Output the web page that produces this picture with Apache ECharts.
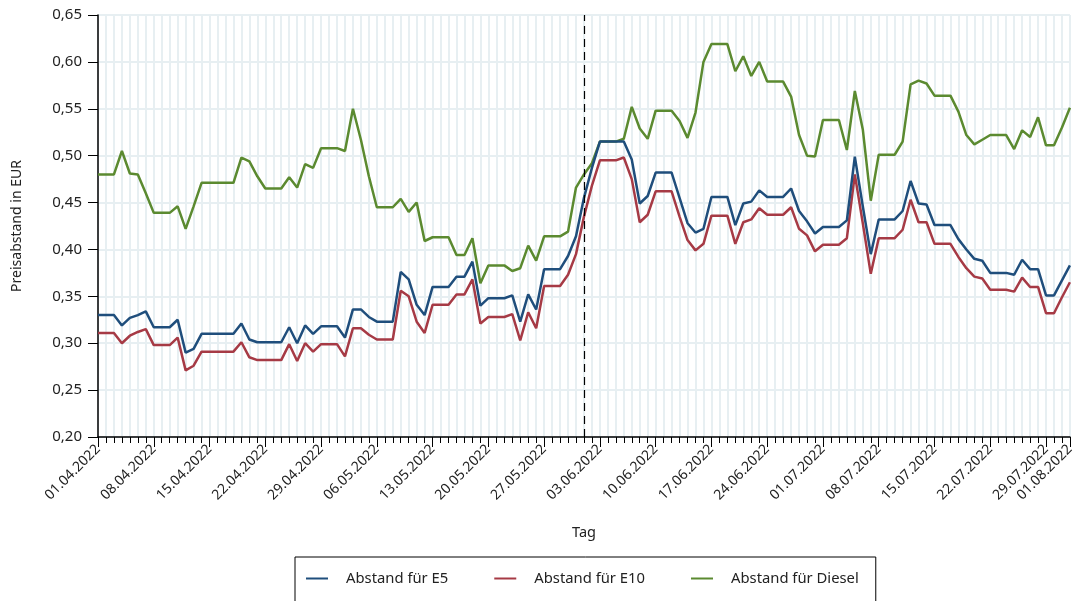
<!DOCTYPE html>
<html>
<head>
<meta charset="utf-8">
<script src="https://cdn.jsdelivr.net/npm/echarts@6/dist/echarts.min.js"></script>
<style>
  html, body { margin: 0; padding: 0; background: #fff; }
  #chart { width: 1077px; height: 601px; }
</style>
</head>
<body>
<div id="chart"></div>
<script>
// Tage 01.04.2022 - 01.08.2022
var days = []
var d = new Date(Date.UTC(2022, 3, 1))
while (d <= new Date(Date.UTC(2022, 7, 1))) {
  var dd = String(d.getUTCDate()).padStart(2, '0')
  var mm = String(d.getUTCMonth() + 1).padStart(2, '0')
  days.push(dd + '.' + mm + '.' + d.getUTCFullYear())
  d.setUTCDate(d.getUTCDate() + 1)
}

var seriesNames = ['Abstand für E5', 'Abstand für E10', 'Abstand für Diesel']

var e5 = [
  0.330, 0.330, 0.330, 0.319, 0.327, 0.330, 0.334, 0.317, 0.317, 0.317,
  0.325, 0.290, 0.294, 0.310, 0.310, 0.310, 0.310, 0.310, 0.321, 0.304,
  0.301, 0.301, 0.301, 0.301, 0.317, 0.300, 0.319, 0.310, 0.318, 0.318,
  0.318, 0.306, 0.336, 0.336, 0.328, 0.323, 0.323, 0.323, 0.376, 0.368,
  0.341, 0.330, 0.360, 0.360, 0.360, 0.371, 0.371, 0.387, 0.340, 0.348,
  0.348, 0.348, 0.351, 0.323, 0.352, 0.336, 0.379, 0.379, 0.379, 0.393,
  0.414, 0.455, 0.487, 0.515, 0.515, 0.515, 0.515, 0.496, 0.449, 0.457,
  0.482, 0.482, 0.482, 0.455, 0.428, 0.418, 0.422, 0.456, 0.456, 0.456,
  0.426, 0.449, 0.451, 0.463, 0.456, 0.456, 0.456, 0.465, 0.441, 0.430,
  0.417, 0.424, 0.424, 0.424, 0.431, 0.499, 0.446, 0.395, 0.432, 0.432,
  0.432, 0.441, 0.473, 0.449, 0.448, 0.426, 0.426, 0.426, 0.411, 0.400,
  0.390, 0.388, 0.375, 0.375, 0.375, 0.373, 0.389, 0.379, 0.379, 0.351,
  0.351, 0.367, 0.383
]

var e10 = [
  0.311, 0.311, 0.311, 0.300, 0.308, 0.312, 0.315, 0.298, 0.298, 0.298,
  0.306, 0.271, 0.276, 0.291, 0.291, 0.291, 0.291, 0.291, 0.301, 0.285,
  0.282, 0.282, 0.282, 0.282, 0.299, 0.281, 0.300, 0.291, 0.299, 0.299,
  0.299, 0.286, 0.316, 0.316, 0.309, 0.304, 0.304, 0.304, 0.356, 0.350,
  0.323, 0.311, 0.341, 0.341, 0.341, 0.352, 0.352, 0.368, 0.321, 0.328,
  0.328, 0.328, 0.331, 0.303, 0.333, 0.316, 0.361, 0.361, 0.361, 0.373,
  0.395, 0.435, 0.468, 0.495, 0.495, 0.495, 0.498, 0.475, 0.429, 0.437,
  0.462, 0.462, 0.462, 0.435, 0.410, 0.399, 0.406, 0.436, 0.436, 0.436,
  0.406, 0.429, 0.432, 0.444, 0.437, 0.437, 0.437, 0.445, 0.422, 0.415,
  0.398, 0.405, 0.405, 0.405, 0.412, 0.480, 0.428, 0.374, 0.412, 0.412,
  0.412, 0.421, 0.453, 0.429, 0.429, 0.406, 0.406, 0.406, 0.392, 0.380,
  0.371, 0.369, 0.357, 0.357, 0.357, 0.355, 0.370, 0.360, 0.360, 0.332,
  0.332, 0.349, 0.365
]

var diesel = [
  0.480, 0.480, 0.480, 0.505, 0.481, 0.480, 0.460, 0.439, 0.439, 0.439,
  0.446, 0.422, 0.446, 0.471, 0.471, 0.471, 0.471, 0.471, 0.498, 0.494,
  0.478, 0.465, 0.465, 0.465, 0.477, 0.466, 0.491, 0.487, 0.508, 0.508,
  0.508, 0.505, 0.550, 0.517, 0.478, 0.445, 0.445, 0.445, 0.454, 0.440,
  0.450, 0.409, 0.413, 0.413, 0.413, 0.394, 0.394, 0.412, 0.364, 0.383,
  0.383, 0.383, 0.377, 0.380, 0.404, 0.388, 0.414, 0.414, 0.414, 0.419,
  0.466, 0.480, 0.492, 0.515, 0.515, 0.515, 0.518, 0.552, 0.529, 0.518,
  0.548, 0.548, 0.548, 0.537, 0.519, 0.546, 0.600, 0.619, 0.619, 0.619,
  0.590, 0.606, 0.585, 0.600, 0.579, 0.579, 0.579, 0.563, 0.522, 0.500,
  0.499, 0.538, 0.538, 0.538, 0.506, 0.569, 0.528, 0.452, 0.501, 0.501,
  0.501, 0.515, 0.576, 0.580, 0.577, 0.564, 0.564, 0.564, 0.547, 0.522,
  0.512, 0.517, 0.522, 0.522, 0.522, 0.507, 0.527, 0.520, 0.541, 0.511,
  0.511, 0.530, 0.551
]

// Beginn Tankrabatt
var markDay = '01.06.2022'

var chart = echarts.init(document.getElementById('chart'))

// Beschriftung jede Woche + letzter Tag
function isLabelDay (i) {
  return i % 7 === 0 || i === days.length - 1
}

chart.setOption({
  animation: false,
  color: ['#1f4e7c', '#a63a45', '#5b8a30'],
  textStyle: { fontFamily: 'Noto Sans', color: '#222' },
  grid: { left: 98, right: 5, top: 15, bottom: 164 },
  legend: {
    data: seriesNames,
    left: 295,
    top: 557,
    padding: [14, 17, 30, 11],
    borderColor: '#000',
    borderWidth: 1,
    itemGap: 46,
    itemWidth: 22,
    itemHeight: 2,
    icon: 'rect',
    textStyle: { fontSize: 14.8, color: '#222', padding: [0, 0, 0, 13] }
  },
  xAxis: [
    {
      type: 'category',
      data: days,
      boundaryGap: false,
      name: 'Tag',
      nameLocation: 'middle',
      nameGap: 88,
      nameTextStyle: { fontSize: 14.5, color: '#222' },
      axisLine: { lineStyle: { color: '#000', width: 1.5 } },
      axisTick: { interval: 0, length: 6, lineStyle: { color: '#000' } },
      axisLabel: {
        interval: function (i) { return isLabelDay(i) },
        rotate: 45,
        fontSize: 14,
        color: '#222',
        margin: 10
      },
      splitLine: { show: true, interval: 0, lineStyle: { color: '#e7eff2', width: 2 } }
    },
    {
      // längere Striche an den beschrifteten Tagen
      type: 'category',
      data: days,
      boundaryGap: false,
      position: 'bottom',
      axisLine: { show: false },
      axisLabel: { show: false },
      axisTick: {
        interval: function (i) { return isLabelDay(i) },
        length: 10,
        lineStyle: { color: '#000' }
      },
      splitLine: { show: false }
    }
  ],
  yAxis: {
    type: 'value',
    min: 0.2,
    max: 0.65,
    interval: 0.05,
    name: 'Preisabstand in EUR',
    nameLocation: 'middle',
    nameGap: 74,
    nameTextStyle: { fontSize: 14, color: '#222' },
    axisLine: { show: true, lineStyle: { color: '#000', width: 1.5 } },
    axisTick: { show: true, length: 10, lineStyle: { color: '#000' } },
    axisLabel: {
      fontSize: 15,
      color: '#222',
      margin: 16,
      formatter: function (v) { return v.toFixed(2).replace('.', ',') }
    },
    splitLine: { lineStyle: { color: '#e7eff2', width: 2 } }
  },
  series: [
    {
      name: seriesNames[0],
      type: 'line',
      data: e5,
      symbol: 'none',
      lineStyle: { width: 2.5 },
      z: 3,
      markLine: {
        silent: true,
        symbol: 'none',
        label: { show: false },
        lineStyle: { color: '#000', type: [8, 5], width: 1.2 },
        data: [{ xAxis: markDay }]
      }
    },
    {
      name: seriesNames[1],
      type: 'line',
      data: e10,
      symbol: 'none',
      lineStyle: { width: 2.5 },
      z: 2
    },
    {
      name: seriesNames[2],
      type: 'line',
      data: diesel,
      symbol: 'none',
      lineStyle: { width: 2.5 },
      z: 2
    }
  ]
})
</script>
</body>
</html>
